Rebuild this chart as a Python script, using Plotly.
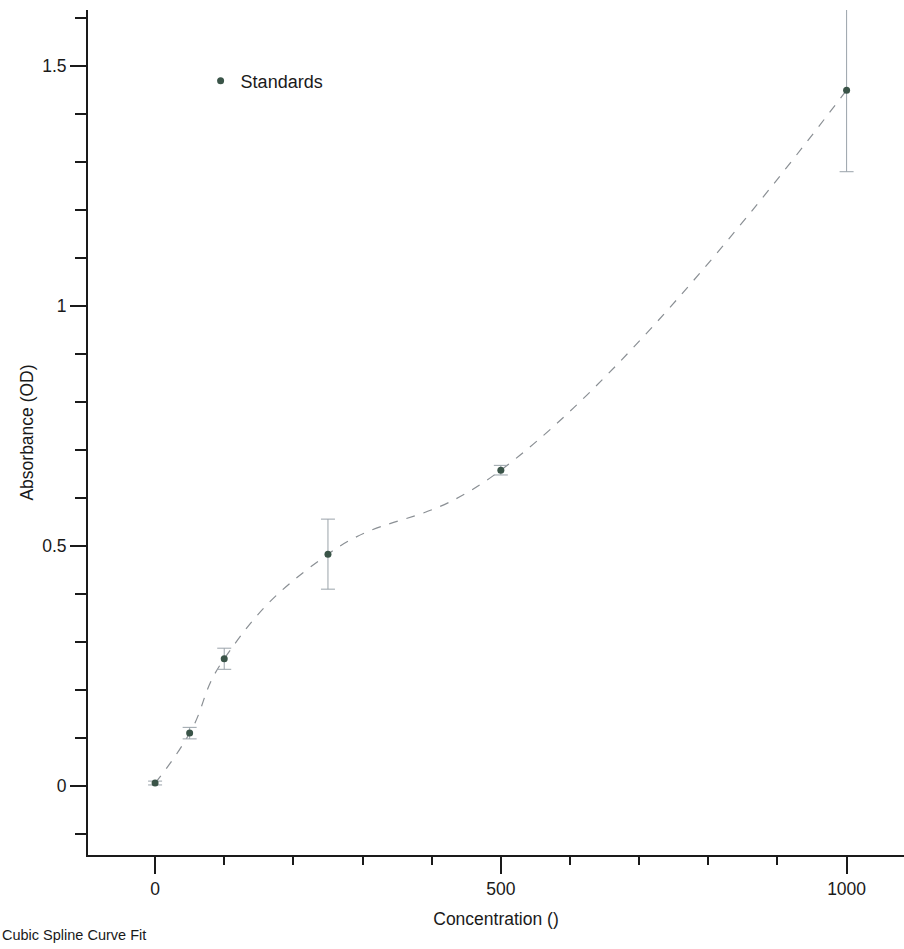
import plotly.graph_objects as go

# Standards data
concentration = [0, 50, 100, 250, 500, 1000]
absorbance = [0.006, 0.110, 0.265, 0.483, 0.658, 1.450]
abs_error = [0.004, 0.012, 0.022, 0.073, 0.010, 0.170]

y_tick_vals = [0, 0.5, 1, 1.5]
y_tick_text = ["0", "0.5", "1", "1.5"]
x_tick_vals = [0, 500, 1000]
x_tick_text = ["0", "500", "1000"]

FONT = "Liberation Sans, Arial, sans-serif"
POINT_COLOR = "#3a5448"
AXIS = "#1a1a1a"

fig = go.Figure()

# Cubic spline curve fit (drawn by the library's spline line shape)
fig.add_trace(go.Scatter(
    x=concentration, y=absorbance,
    mode="lines",
    line=dict(shape="spline", smoothing=1.3, color="#8a8f94", width=1.2, dash="dash"),
    showlegend=False, hoverinfo="skip",
))

# Standards with error bars
fig.add_trace(go.Scatter(
    x=concentration, y=absorbance,
    mode="markers",
    name="Standards",
    marker=dict(size=7, color=POINT_COLOR),
    error_y=dict(type="data", array=abs_error, visible=True,
                 color="#9aa3aa", thickness=1, width=7),
))

fig.update_layout(
    width=904, height=949,
    margin=dict(l=88, r=0, t=10, b=94),
    paper_bgcolor="white", plot_bgcolor="white",
    font=dict(family=FONT, size=17, color=AXIS),
    showlegend=True,
    legend=dict(
        x=0.138, y=0.916, xanchor="left", yanchor="middle",
        bgcolor="rgba(0,0,0,0)", itemwidth=30,
        font=dict(family=FONT, size=18, color=AXIS),
    ),
    xaxis=dict(
        range=[-97, 1083],
        showgrid=False, zeroline=False,
        showline=True, linecolor=AXIS, linewidth=2,
        ticks="outside", ticklen=17, tickwidth=2, tickcolor=AXIS,
        tickmode="array", tickvals=x_tick_vals, ticktext=x_tick_text,
        minor=dict(dtick=100, tick0=0, ticks="outside", ticklen=8,
                   tickwidth=2, tickcolor=AXIS, showgrid=False),
        title=dict(text="Concentration ()", font=dict(size=17.5), standoff=15),
        tickfont=dict(size=17.5),
    ),
    yaxis=dict(
        range=[-0.144, 1.617],
        showgrid=False, zeroline=False,
        showline=True, linecolor=AXIS, linewidth=2,
        ticks="outside", ticklen=16, tickwidth=2, tickcolor=AXIS,
        tickmode="array", tickvals=y_tick_vals, ticktext=y_tick_text,
        minor=dict(dtick=0.1, tick0=0, ticks="outside", ticklen=11,
                   tickwidth=2, tickcolor=AXIS, showgrid=False),
        title=dict(text="Absorbance (OD)", font=dict(size=17.5), standoff=4),
        tickfont=dict(size=17.5),
    ),
    annotations=[dict(
        text="Cubic Spline Curve Fit", x=0, y=0, xref="paper", yref="paper",
        xanchor="left", yanchor="middle", showarrow=False,
        xshift=-88, yshift=-80, font=dict(family=FONT, size=14.5, color=AXIS),
    )],
)

fig.write_html("out.html")
